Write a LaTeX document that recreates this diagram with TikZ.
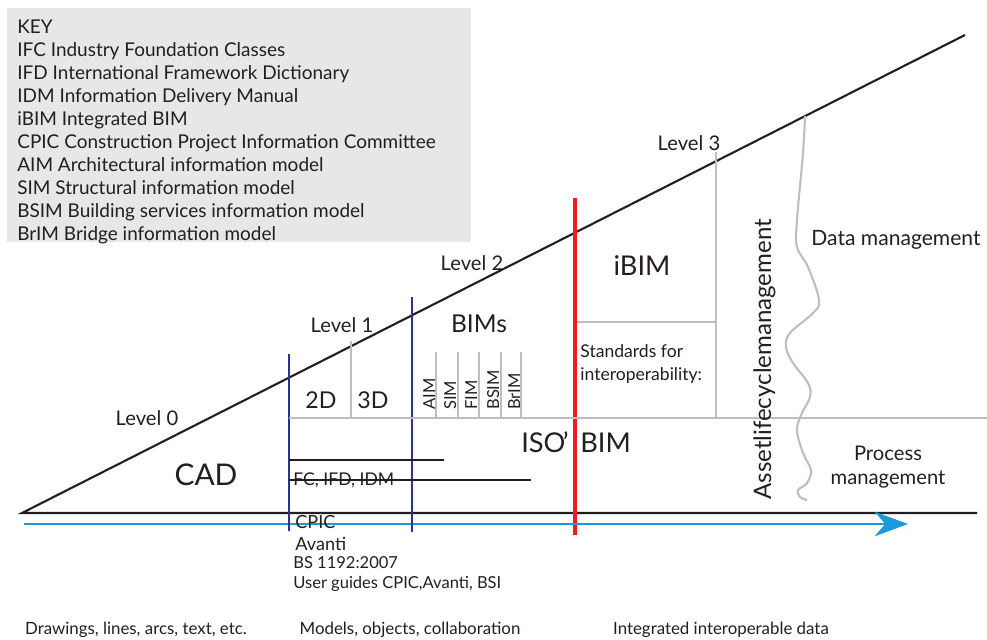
\documentclass[tikz,border=0pt]{standalone}
\usepackage{fontspec}
\setmainfont{Lato}
\usepackage{tikz}
\usetikzlibrary{arrows.meta,positioning,calc}

\definecolor{keygray}{HTML}{E6E7E8}
\definecolor{rulegray}{HTML}{BCBEC0}
\definecolor{navy}{HTML}{2E3192}
\definecolor{bimred}{HTML}{ED1C24}
\definecolor{flowblue}{HTML}{1C9AD8}
\definecolor{ink}{HTML}{231F20}

\begin{document}
\begin{tikzpicture}[x=0.02cm, y=-0.02cm,
  txt/.style={draw=none, inner sep=0pt, text=ink},
  sep/.style={rulegray, line width=1.1pt},
  stage/.style={navy, line width=1.2pt}]

\useasboundingbox (0,0) rectangle (987,639);

% Key box
\fill[keygray] (7,8) rectangle (471,242);
\foreach \i/\t in {0/KEY, 1/IFC Industry Foundation Classes, 2/IFD International Framework Dictionary,
  3/IDM Information Delivery Manual, 4/iBIM Integrated BIM, 5/CPIC Construction Project Information Committee,
  6/AIM Architectural information model, 7/SIM Structural information model,
  8/BSIM Building services information model, 9/BrIM Bridge information model} {
  \pgfmathsetmacro{\y}{33 + 23*\i}
  \node[txt, anchor=base west, font=\fontsize{10.8}{12}\selectfont] (key\i) at (17, \y) {\t};
}

% Main wedge
\coordinate (apex) at (22,513);
\coordinate (top) at (965,35);
\coordinate (baseend) at (977,513);
\draw[ink, line width=1.2pt] (top) -- (apex) -- (baseend);

% Red ISO line
\coordinate (isotop) at (575,198);
\coordinate (isobot) at (575,535);
\draw[bimred, line width=2.8pt] (isotop) -- (isobot);

% Time arrow
\coordinate (flowstart) at (24,524);
\coordinate (flowend) at (908,524);
\draw[flowblue, line width=1.2pt, -{Stealth[length=19pt, width=14pt, inset=6pt]}] (flowstart) -- (flowend);

% Stage boundaries
\coordinate (s1top) at (289,354);
\coordinate (s1bot) at (289,531);
\coordinate (s2top) at (412,297);
\coordinate (s2bot) at (412,532);
\draw[stage] (s1top) -- (s1bot);
\draw[stage] (s2top) -- (s2bot);

% Grey separators
\coordinate (midleft) at (289,418);
\coordinate (midright) at (987,418);
\draw[sep] (midleft) -- (midright);
\coordinate (dtop) at (351,341);
\draw[sep] (dtop) -- (dtop |- midleft);
\foreach \x in {436,458,479,501,521} {
  \draw[sep] (\x,352) -- (\x,418);
}
\coordinate (l3top) at (716,152);
\coordinate (l3bot) at (716,418);
\coordinate (ibimleft) at (577,322);
\draw[sep] (l3top) -- (l3bot);
\draw[sep] (ibimleft) -- (ibimleft -| l3top);

% Wavy divider
\draw[sep, line width=1.2pt] plot[smooth, tension=0.6] coordinates {(805,116) (803,153) (797,220) (797,247) (808,267)
  (819,300) (813,313) (790,333) (786,347) (793,363) (808,383) (810,397) (802,413) (797,430)
  (803,453) (811,470) (807,483) (798,490) (800,497) (807,500)};

% Standards lines
\coordinate (std1) at (289,460);
\coordinate (std2) at (289,480);
\draw[ink, line width=1pt] (std1) -- ++(155,0) coordinate (std1end);
\draw[ink, line width=1pt] (std2) -- ++(242,0) coordinate (std2end);

% Labels
\node[txt, anchor=base, font=\fontsize{11.5}{13}\selectfont] (lev0) at (147,425) {Level 0};
\node[txt, anchor=base, font=\fontsize{11.5}{13}\selectfont] (lev1) at (342,332) {Level 1};
\node[txt, anchor=base, font=\fontsize{11.5}{13}\selectfont] (lev2) at (472,270) {Level 2};
\node[txt, anchor=base, font=\fontsize{11.5}{13}\selectfont] (lev3) at (689,150) {Level 3};

\node[txt, anchor=base, font=\fontsize{17}{20}\selectfont] (cad) at (206,485) {CAD};
\node[txt, anchor=base, font=\fontsize{13.2}{15}\selectfont] (twod) at (321,408) {2D};
\node[txt, anchor=base, font=\fontsize{13.2}{15}\selectfont] (threed) at (373,408) {3D};
\node[txt, anchor=base, font=\fontsize{14}{16}\selectfont] (bims) at (479,332) {BIMs};
\foreach \x/\t in {435/AIM, 456/SIM, 477/FIM, 499/BSIM, 520/BrIM} {
  \node[txt, anchor=base west, rotate=90, font=\fontsize{9.4}{11}\selectfont] (m\t) at (\x,410) {\t};
}
\node[txt, anchor=base, font=\fontsize{15.5}{18}\selectfont] (ibim) at (642,275) {iBIM};
\node[txt, anchor=base west, font=\fontsize{10}{12}\selectfont] (stdfor) at (580,357) {Standards for};
\node[txt, anchor=base west, font=\fontsize{10}{12}\selectfont] (interop) at (580,380) {interoperability:};
\node[txt, anchor=base east, font=\fontsize{15.5}{18}\selectfont] (iso) at (569,452) {ISO\kern-1.5pt'};
\node[txt, anchor=base west, font=\fontsize{15.5}{18}\selectfont] (isobim) at (580,452) {BIM};
\node[txt, anchor=base west, rotate=90, font=\fontsize{13.7}{16}\selectfont] (asset) at (771,500) {Assetlifecyclemanagement};
\node[txt, anchor=base, font=\fontsize{12}{14}\selectfont] (dataman) at (896,245) {Data management};
\node[txt, anchor=base, font=\fontsize{11.5}{13}\selectfont] (process) at (888,460) {Process};
\node[txt, anchor=base, font=\fontsize{11.5}{13}\selectfont] (procman) at (888,484) {management};

\node[txt, anchor=base west, font=\fontsize{10}{12}\selectfont] (ifc) at (293,485) {FC, IFD, IDM};
\node[txt, anchor=base west, font=\fontsize{10.3}{12}\selectfont] (cpic) at (295,528) {CPIC};
\node[txt, anchor=base west, font=\fontsize{10.3}{12}\selectfont] (avanti) at (295,550) {Avanti};
\node[txt, anchor=base west, font=\fontsize{9.4}{11}\selectfont] (bs) at (293,568) {BS 1192:2007};
\node[txt, anchor=base west, font=\fontsize{9.4}{11}\selectfont] (guides) at (293,588) {User guides CPIC,Avanti, BSI};

% Bottom captions
\node[txt, anchor=base, font=\fontsize{9.6}{11}\selectfont] (cap0) at (136,634) {Drawings, lines, arcs, text, etc.};
\node[txt, anchor=base, font=\fontsize{9.6}{11}\selectfont] (cap1) at (410,634) {Models, objects, collaboration};
\node[txt, anchor=base, font=\fontsize{9.6}{11}\selectfont] (cap2) at (721,634) {Integrated interoperable data};

\end{tikzpicture}
\end{document}
